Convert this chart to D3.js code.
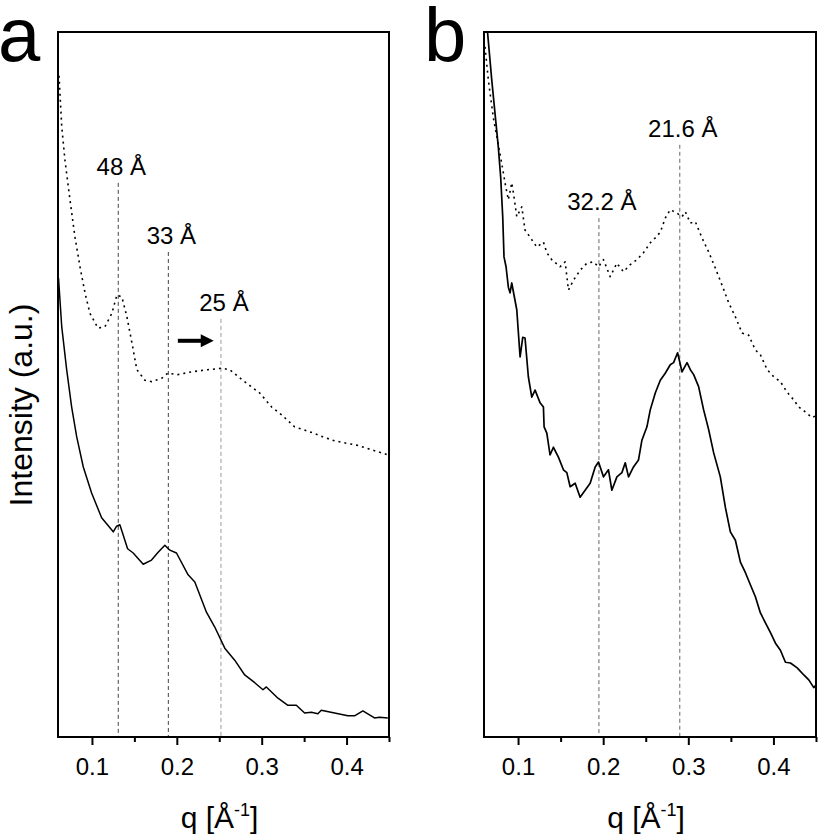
<!DOCTYPE html>
<html>
<head>
<meta charset="utf-8">
<script src="https://cdn.jsdelivr.net/npm/d3@7/dist/d3.min.js"></script>
<style>
  html, body { margin: 0; padding: 0; background: #fff; }
  svg { display: block; font-family: "Liberation Sans", Arial, Helvetica, sans-serif; }
</style>
</head>
<body>
<svg id="chart" width="820" height="836"></svg>
<script>
// ---------- DATA ----------
// Panel a: dotted curve
const aDotQ = [0.0612,0.0644,0.0682,0.0741,0.0800,0.0859,0.0918,0.0976,0.1071,0.1153,0.1235,0.1294,0.1353,0.1412,0.1471,0.1529,0.1624,0.1706,0.1824,0.1894,0.2012,0.2176,0.2365,0.2529,0.2624,0.2776,0.2976,0.3118,0.3235,0.3388,0.3565,0.3718,0.3835,0.3941,0.4118,0.4306,0.4494];
const aDotI = [93.8,86.6,81.8,76.2,70.9,66.7,63.0,60.1,58.0,58.2,60.1,62.7,62.4,59.6,55.9,52.1,50.6,50.4,50.9,51.6,51.4,51.8,52.1,52.3,52.1,50.6,48.8,46.8,45.7,44.0,43.3,42.6,42.1,41.8,41.4,40.7,40.0];
// Panel a: solid curve
const aSolQ = [0.0606,0.0644,0.0702,0.0761,0.0820,0.0898,0.0996,0.1114,0.1251,0.1291,0.1329,0.1420,0.1486,0.1604,0.1702,0.1780,0.1859,0.1918,0.1996,0.2133,0.2212,0.2349,0.2447,0.2565,0.2682,0.2800,0.2918,0.3015,0.3055,0.3192,0.3309,0.3408,0.3506,0.3585,0.3662,0.3702,0.3859,0.4015,0.4094,0.4192,0.4329,0.4388,0.4486];
const aSolI = [65.1,58.2,52.1,46.8,42.6,38.3,34.6,31.1,29.1,29.9,30.1,26.7,26.1,24.5,25.1,26.2,27.2,26.5,26.1,23.0,22.0,17.7,15.6,12.6,10.9,8.8,7.7,6.7,7.1,5.5,4.5,4.5,3.4,3.5,3.3,3.8,3.4,3.0,3.0,3.7,2.7,2.8,2.7];
// Panel b: dotted curve
const bDotQ = [0.0612,0.0651,0.0709,0.0768,0.0808,0.0847,0.0886,0.0926,0.0945,0.0985,0.1044,0.1082,0.1141,0.1220,0.1298,0.1338,0.1396,0.1494,0.1553,0.1592,0.1651,0.1729,0.1808,0.1886,0.1945,0.2004,0.2082,0.2161,0.2239,0.2318,0.2396,0.2474,0.2553,0.2612,0.2671,0.2729,0.2788,0.2867,0.2926,0.2965,0.3024,0.3082,0.3161,0.3239,0.3318,0.3396,0.3474,0.3553,0.3632,0.3709,0.3788,0.3847,0.3926,0.4004,0.4082,0.4161,0.4239,0.4298,0.4376,0.4455,0.4500];
const bDotI = [97.9,93.2,87.9,84.0,81.4,78.6,76.2,78.6,77.2,73.8,75.2,71.9,70.9,69.5,70.2,68.7,67.7,66.7,67.4,63.4,64.8,66.2,67.2,67.4,66.7,67.7,65.3,67.2,66.0,67.0,67.7,68.7,70.1,70.8,71.6,73.6,74.8,74.3,73.8,74.5,72.9,73.1,70.8,68.8,66.5,64.1,61.6,59.6,57.3,57.0,54.9,54.2,52.1,51.1,50.4,48.9,47.8,46.8,46.1,45.3,45.6];
// Panel b: solid curve
const bSolQ = [0.0629,0.0691,0.0729,0.0768,0.0796,0.0820,0.0835,0.0859,0.0886,0.0906,0.0926,0.0985,0.1024,0.1055,0.1082,0.1121,0.1161,0.1200,0.1259,0.1298,0.1306,0.1338,0.1376,0.1415,0.1474,0.1533,0.1573,0.1612,0.1671,0.1729,0.1788,0.1847,0.1906,0.1945,0.2004,0.2062,0.2102,0.2161,0.2220,0.2259,0.2298,0.2356,0.2415,0.2455,0.2514,0.2553,0.2612,0.2671,0.2729,0.2788,0.2827,0.2874,0.2926,0.2985,0.3024,0.3063,0.3121,0.3180,0.3239,0.3298,0.3376,0.3435,0.3494,0.3553,0.3612,0.3671,0.3729,0.3788,0.3847,0.3906,0.3965,0.4024,0.4082,0.4141,0.4200,0.4279,0.4357,0.4415,0.4474,0.4500];
const bSolI = [101.7,93.2,88.5,83.7,79.4,73.8,68.1,66.7,63.8,63.0,64.4,60.6,53.9,56.7,56.6,51.1,48.2,49.2,47.4,46.8,44.0,43.1,40.0,41.1,39.7,37.9,37.5,35.5,36.0,34.0,35.0,36.0,38.3,39.0,36.9,37.9,35.0,36.9,37.5,38.9,36.9,38.3,39.3,42.1,44.0,46.4,48.8,50.6,51.6,52.8,53.1,54.5,51.8,53.1,52.1,51.4,49.7,46.4,43.6,40.3,36.9,32.6,29.1,27.9,24.8,23.3,21.6,19.9,17.6,16.2,14.8,13.3,12.3,10.6,10.5,9.8,8.8,8.1,7.0,7.4];

// Peak markers
const aPeakQ = [0.131, 0.19, 0.252];
const aPeakTop = [78.6, 68.8, 59.3];
const aPeakLabels = ["48 Å", "33 Å", "25 Å"];
const bPeakQ = [0.195, 0.29];
const bPeakTop = [73.6, 84.0];
const bPeakLabels = ["32.2 Å", "21.6 Å"];
// Arrow (panel a): from q, to q, at intensity
const arrowQ = [0.2012, 0.2435];
const arrowI = 56.2;

const qDomain = [0.06, 0.45];
const iDomain = [0, 100];
const majorTicks = [0.1, 0.2, 0.3, 0.4];
const minorTicks = [0.15, 0.25, 0.35, 0.45];
const tickLabels = ["0.1", "0.2", "0.3", "0.4"];
const panelLetters = ["a", "b"];
const yTitle = "Intensity (a.u.)";

// ---------- DRAW ----------
const svg = d3.select("#chart");
const plotTop = 32, plotBottom = 737;
const panels = [
  { left: 58, right: 389, letter: panelLetters[0], letterX: -2,
    series: [{q: aDotQ, v: aDotI, dotted: true, w: 1.6}, {q: aSolQ, v: aSolI, dotted: false, w: 1.5}],
    peaks: aPeakQ, tops: aPeakTop, labels: aPeakLabels,
    peakColors: ["#444", "#444", "#999"], arrow: true },
  { left: 484, right: 816, letter: panelLetters[1], letterX: 424,
    series: [{q: bDotQ, v: bDotI, dotted: true, w: 1.6}, {q: bSolQ, v: bSolI, dotted: false, w: 1.7}],
    peaks: bPeakQ, tops: bPeakTop, labels: bPeakLabels,
    peakColors: ["#666", "#666"], arrow: false }
];

svg.append("defs").selectAll("clipPath").data(panels).join("clipPath")
  .attr("id", (d, i) => "clip" + i)
  .append("rect")
  .attr("x", d => d.left).attr("y", plotTop)
  .attr("width", d => d.right - d.left).attr("height", plotBottom - plotTop);

panels.forEach((p, pi) => {
  const x = d3.scaleLinear().domain(qDomain).range([p.left, p.right]);
  const y = d3.scaleLinear().domain(iDomain).range([plotBottom, plotTop]);
  const g = svg.append("g");
  const plot = g.append("g").attr("clip-path", `url(#clip${pi})`);

  // dashed peak lines
  p.peaks.forEach((q, k) => {
    plot.append("line")
      .attr("x1", x(q)).attr("x2", x(q))
      .attr("y1", y(p.tops[k])).attr("y2", plotBottom)
      .attr("stroke", p.peakColors[k]).attr("stroke-width", 1)
      .attr("stroke-dasharray", "4,3");
    g.append("text")
      .attr("x", x(q) + 3).attr("y", y(p.tops[k]) - 8)
      .attr("text-anchor", "middle")
      .attr("font-size", 24).attr("fill", "#000")
      .text(p.labels[k]);
  });

  // curves
  const line = d3.line().x(d => x(d[0])).y(d => y(d[1]));
  p.series.forEach(s => {
    plot.append("path")
      .datum(s.q.map((q, i) => [q, s.v[i]]))
      .attr("d", line)
      .attr("fill", "none")
      .attr("stroke", "#000")
      .attr("stroke-width", s.w)
      .attr("stroke-linejoin", "round")
      .attr("stroke-dasharray", s.dotted ? "2,4" : null);
  });

  // arrow
  if (p.arrow) {
    const x0 = x(arrowQ[0]), x1 = x(arrowQ[1]), yy = y(arrowI);
    g.append("line").attr("x1", x0).attr("x2", x1 - 11)
      .attr("y1", yy).attr("y2", yy)
      .attr("stroke", "#000").attr("stroke-width", 4);
    g.append("path")
      .attr("d", `M${x1},${yy} L${x1 - 13},${yy - 6.5} L${x1 - 13},${yy + 6.5} Z`)
      .attr("fill", "#000");
  }

  // frame
  g.append("rect")
    .attr("x", p.left).attr("y", plotTop)
    .attr("width", p.right - p.left).attr("height", plotBottom - plotTop)
    .attr("fill", "none").attr("stroke", "#000").attr("stroke-width", 2);

  // bottom axis: majors
  const ax = g.append("g").attr("transform", `translate(0,${plotBottom})`)
    .call(d3.axisBottom(x).tickValues(majorTicks)
      .tickFormat((d, i) => tickLabels[i]).tickSize(8).tickPadding(13));
  ax.select(".domain").remove();
  ax.selectAll(".tick line").attr("stroke", "#000").attr("stroke-width", 2);
  ax.selectAll(".tick text").attr("font-size", 24).attr("fill", "#000")
    .attr("font-family", "\"Liberation Sans\", Arial, sans-serif");
  // minors
  const axm = g.append("g").attr("transform", `translate(0,${plotBottom})`)
    .call(d3.axisBottom(x).tickValues(minorTicks).tickFormat("").tickSize(5));
  axm.select(".domain").remove();
  axm.selectAll(".tick line").attr("stroke", "#000").attr("stroke-width", 2);

  // x title
  const xt = g.append("text")
    .attr("x", (p.left + p.right) / 2 - 4).attr("y", 828)
    .attr("text-anchor", "middle").attr("font-size", 30).attr("fill", "#000");
  xt.append("tspan").text("q [Å");
  xt.append("tspan").attr("font-size", 18).attr("dy", -12).text("-1");
  xt.append("tspan").attr("dy", 12).text("]");

  // panel letter
  g.append("text").attr("x", p.letterX).attr("y", 61)
    .attr("font-size", 76).attr("fill", "#000").text(p.letter);
});

// y title
svg.append("text")
  .attr("transform", "translate(32,405) rotate(-90)")
  .attr("text-anchor", "middle").attr("font-size", 32).attr("fill", "#000")
  .text(yTitle);
</script>
</body>
</html>
